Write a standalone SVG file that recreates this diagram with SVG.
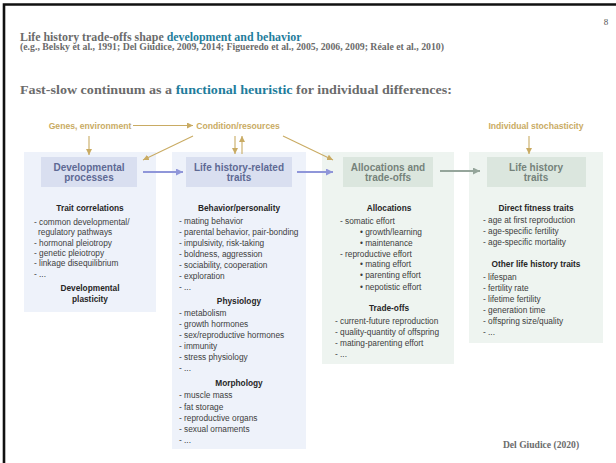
<svg xmlns="http://www.w3.org/2000/svg" width="616" height="463" viewBox="0 0 616 463">
<style>
.serif{font-family:"Liberation Serif","Times New Roman",serif;}
.title{font-size:11.9px;font-weight:bold;fill:#6b6b6b;}
.blue{fill:#1f7d9c;}
.cite{font-size:9.4px;font-weight:bold;fill:#6b6b6b;}
.sans{font-family:"Liberation Sans",Arial,sans-serif;}
.hdrB{font-size:10px;font-weight:bold;fill:#5e6994;text-anchor:middle;}
.hdrG{font-size:10px;font-weight:bold;fill:#75827a;text-anchor:middle;}
.sub{font-size:8.3px;font-weight:bold;fill:#262626;text-anchor:middle;}
.body{font-size:8.3px;fill:#3d3d3d;}
.tan{font-size:8.6px;font-weight:bold;fill:#c9ab63;text-anchor:middle;}
.pB{fill:#eef2fa;}
.hB{fill:#d9dff0;}
.pG{fill:#eef4f0;}
.hG{fill:#dbe6de;}
.aT{stroke:#c9ab63;stroke-width:1.1;fill:none;}
.aB{stroke:#8f96d9;stroke-width:2;fill:none;}
.aG{stroke:#95a59b;stroke-width:1.8;fill:none;}
</style>
<defs>
<marker id="mT" markerUnits="userSpaceOnUse" markerWidth="8" markerHeight="8" refX="6" refY="3" orient="auto"><path d="M0,0 L6,3 L0,6 Z" fill="#c9ab63"/></marker>
<marker id="mB" markerUnits="userSpaceOnUse" markerWidth="10" markerHeight="10" refX="7" refY="3.5" orient="auto"><path d="M0,0 L7,3.5 L0,7 Z" fill="#8f96d9"/></marker>
<marker id="mG" markerUnits="userSpaceOnUse" markerWidth="10" markerHeight="10" refX="7" refY="3.5" orient="auto"><path d="M0,0 L7,3.5 L0,7 Z" fill="#95a59b"/></marker>
</defs>
<rect width="616" height="463" fill="#ffffff"/>
<path d="M4,463 V4.5 H616" stroke="#111" stroke-width="2.6" fill="none"/>

<g id="page-number"><text class="serif" x="606" y="25" font-size="9" fill="#555" text-anchor="middle">8</text></g>
<g id="title">
<text class="serif title" x="20" y="41">Life history trade-offs shape <tspan class="blue">development and behavior</tspan></text>
<text class="serif cite" x="20" y="49.5" textLength="424" lengthAdjust="spacingAndGlyphs">(e.g., Belsky et al., 1991; Del Giudice, 2009, 2014; Figueredo et al., 2005, 2006, 2009; Réale et al., 2010)</text>
</g>
<g id="subtitle"><text class="serif title" x="20" y="94" textLength="432" lengthAdjust="spacingAndGlyphs">Fast-slow continuum as a <tspan class="blue">functional heuristic</tspan> for individual differences:</text></g>

<g id="genes"><text class="sans tan" x="90" y="129">Genes, environment</text></g>
<g id="condition"><text class="sans tan" x="238" y="129">Condition/resources</text></g>
<g id="stochasticity"><text class="sans tan" x="536" y="129">Individual stochasticity</text></g>

<g id="developmental">
<rect class="pB" x="24" y="152" width="132" height="160"/>
<rect class="hB" x="41" y="157" width="96" height="30"/>
<text class="sans hdrB" x="89" y="170.5">Developmental</text>
<text class="sans hdrB" x="89" y="181">processes</text>
<text class="sans sub" x="90" y="211">Trait correlations</text>
<text class="sans body" x="34" y="225">- common developmental/</text>
<text class="sans body" x="38" y="235.3">regulatory pathways</text>
<text class="sans body" x="34" y="245.6">- hormonal pleiotropy</text>
<text class="sans body" x="34" y="255.9">- genetic pleiotropy</text>
<text class="sans body" x="34" y="266.2">- linkage disequilibrium</text>
<text class="sans body" x="34" y="276.5">- ...</text>
<text class="sans sub" x="90" y="291">Developmental</text>
<text class="sans sub" x="90" y="301.5">plasticity</text>
</g>

<g id="lh-related">
<rect class="pB" x="172" y="152" width="134" height="297"/>
<rect class="hB" x="186" y="157" width="106" height="30"/>
<text class="sans hdrB" x="239" y="170.5">Life history-related</text>
<text class="sans hdrB" x="239" y="181">traits</text>
<text class="sans sub" x="239" y="211">Behavior/personality</text>
<text class="sans body" x="179" y="223.5">- mating behavior</text>
<text class="sans body" x="179" y="234.5">- parental behavior, pair-bonding</text>
<text class="sans body" x="179" y="245.5">- impulsivity, risk-taking</text>
<text class="sans body" x="179" y="256.5">- boldness, aggression</text>
<text class="sans body" x="179" y="267.5">- sociability, cooperation</text>
<text class="sans body" x="179" y="278.5">- exploration</text>
<text class="sans body" x="179" y="289.5">- ...</text>
<text class="sans sub" x="239" y="304">Physiology</text>
<text class="sans body" x="179" y="316">- metabolism</text>
<text class="sans body" x="179" y="327">- growth hormones</text>
<text class="sans body" x="179" y="338">- sex/reproductive hormones</text>
<text class="sans body" x="179" y="349">- immunity</text>
<text class="sans body" x="179" y="360">- stress physiology</text>
<text class="sans body" x="179" y="371">- ...</text>
<text class="sans sub" x="239" y="386">Morphology</text>
<text class="sans body" x="179" y="398">- muscle mass</text>
<text class="sans body" x="179" y="409.5">- fat storage</text>
<text class="sans body" x="179" y="420.5">- reproductive organs</text>
<text class="sans body" x="179" y="431.5">- sexual ornaments</text>
<text class="sans body" x="179" y="442.5">- ...</text>
</g>

<g id="allocations">
<rect class="pG" x="322" y="152" width="132" height="212"/>
<rect class="hG" x="343" y="157" width="90" height="30"/>
<text class="sans hdrG" x="388" y="170.5">Allocations and</text>
<text class="sans hdrG" x="388" y="181">trade-offs</text>
<text class="sans sub" x="389" y="211">Allocations</text>
<text class="sans body" x="340" y="224">- somatic effort</text>
<text class="sans body" x="360" y="235">• growth/learning</text>
<text class="sans body" x="360" y="245.5">• maintenance</text>
<text class="sans body" x="340" y="256.5">- reproductive effort</text>
<text class="sans body" x="360" y="267">• mating effort</text>
<text class="sans body" x="360" y="278">• parenting effort</text>
<text class="sans body" x="360" y="289.5">• nepotistic effort</text>
<text class="sans sub" x="389" y="311">Trade-offs</text>
<text class="sans body" x="335" y="324">- current-future reproduction</text>
<text class="sans body" x="335" y="335">- quality-quantity of offspring</text>
<text class="sans body" x="335" y="346">- mating-parenting effort</text>
<text class="sans body" x="335" y="357">- ...</text>
</g>

<g id="lh-traits">
<rect class="pG" x="469" y="152" width="134" height="191"/>
<rect class="hG" x="487" y="157" width="99" height="30"/>
<text class="sans hdrG" x="536" y="170.5">Life history</text>
<text class="sans hdrG" x="536" y="181">traits</text>
<text class="sans sub" x="536" y="211">Direct fitness traits</text>
<text class="sans body" x="483" y="223">- age at first reproduction</text>
<text class="sans body" x="483" y="234">- age-specific fertility</text>
<text class="sans body" x="483" y="245">- age-specific mortality</text>
<text class="sans sub" x="536" y="267">Other life history traits</text>
<text class="sans body" x="483" y="280">- lifespan</text>
<text class="sans body" x="483" y="291">- fertility rate</text>
<text class="sans body" x="483" y="302">- lifetime fertility</text>
<text class="sans body" x="483" y="313">- generation time</text>
<text class="sans body" x="483" y="324">- offspring size/quality</text>
<text class="sans body" x="483" y="335">- ...</text>
</g>

<g id="connectors">
<line class="aT" x1="133" y1="125.5" x2="193" y2="125.5" marker-end="url(#mT)"/>
<line class="aT" x1="89" y1="136" x2="89" y2="155" marker-end="url(#mT)"/>
<line class="aT" x1="193" y1="136" x2="143" y2="160" marker-end="url(#mT)"/>
<line class="aT" x1="235" y1="136" x2="235" y2="154" marker-end="url(#mT)"/>
<line class="aT" x1="242" y1="154" x2="242" y2="136" marker-end="url(#mT)"/>
<line class="aT" x1="283" y1="136" x2="333" y2="160" marker-end="url(#mT)"/>
<line class="aT" x1="529" y1="136" x2="529" y2="154" marker-end="url(#mT)"/>
<line class="aB" x1="143" y1="172" x2="183" y2="172" marker-end="url(#mB)"/>
<line class="aB" x1="297" y1="172" x2="333" y2="172" marker-end="url(#mB)"/>
<line class="aG" x1="440" y1="171" x2="480" y2="171" marker-end="url(#mG)"/>
</g>

<g id="credit"><text class="serif" x="541" y="448" font-size="9.6" font-weight="bold" fill="#6b6b6b" text-anchor="middle">Del Giudice (2020)</text></g>
</svg>
